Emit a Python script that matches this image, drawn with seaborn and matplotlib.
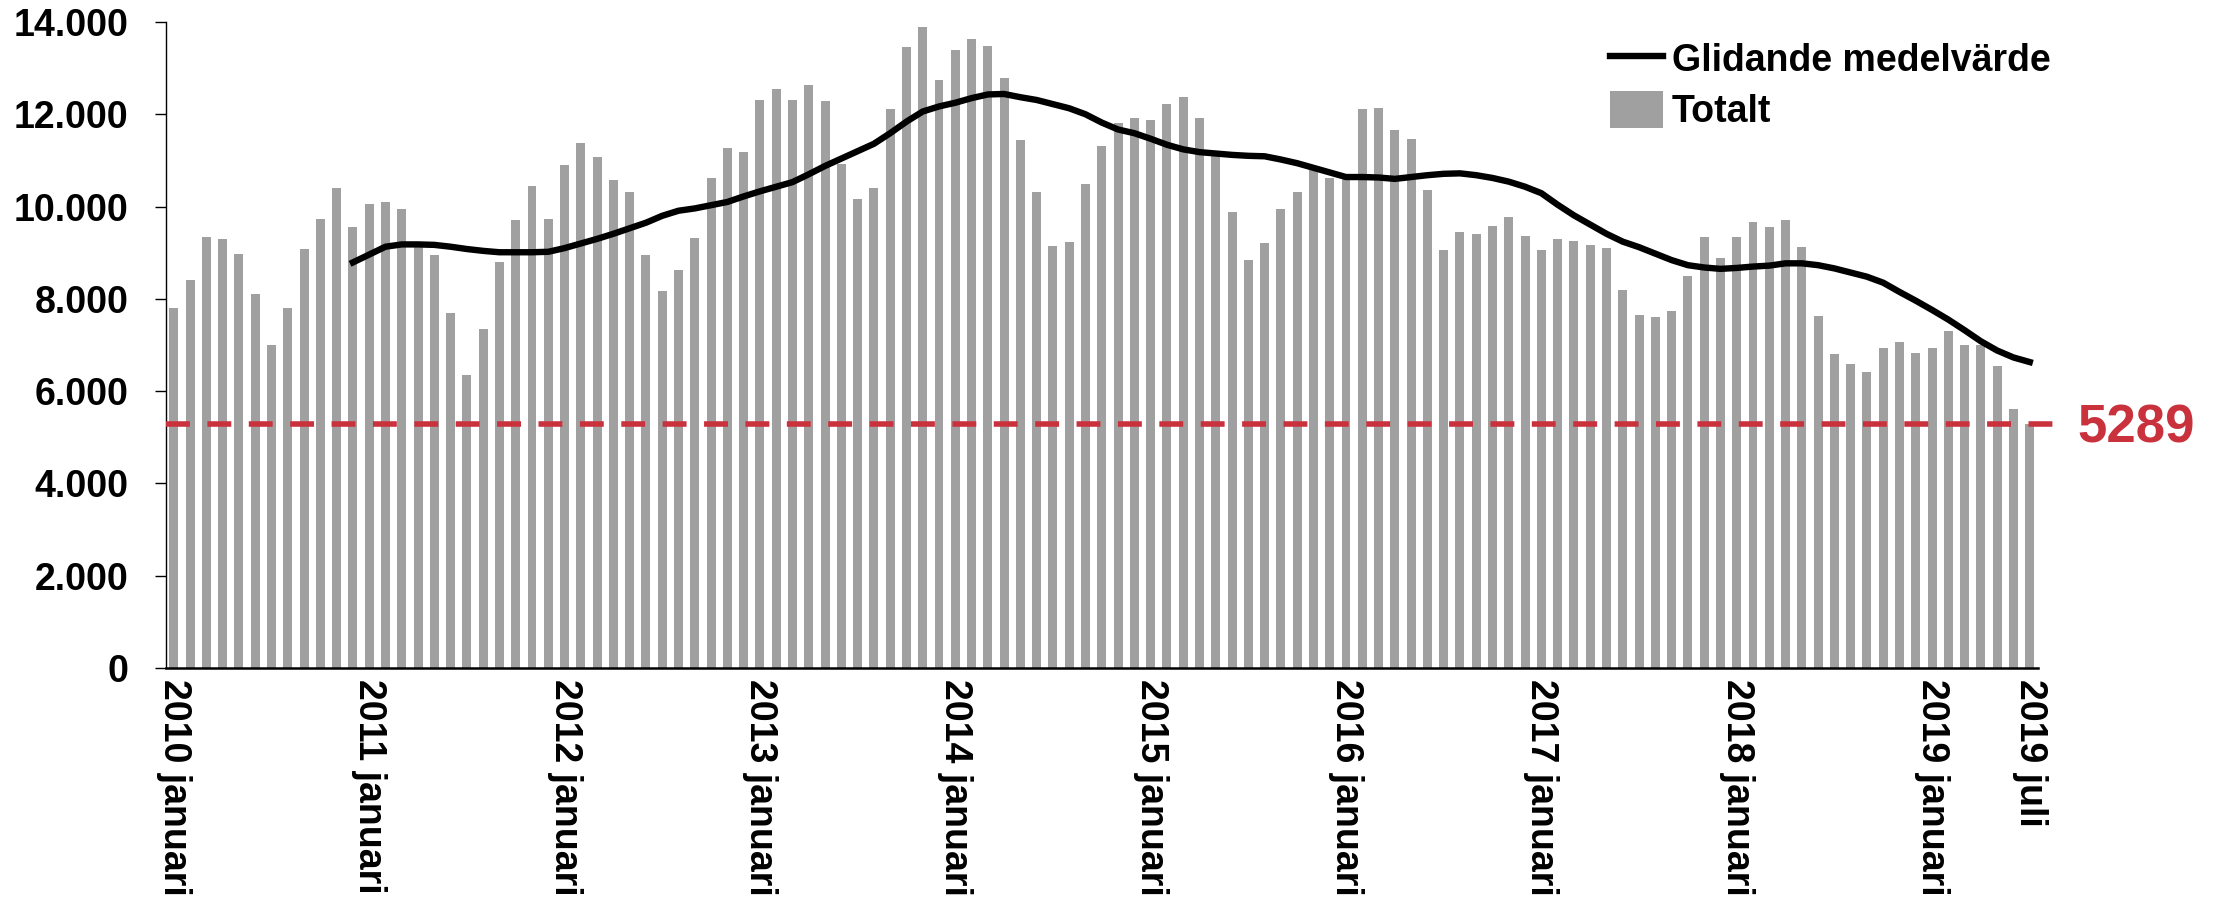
import numpy as np
import pandas as pd
import matplotlib
matplotlib.use("Agg")
import matplotlib.pyplot as plt
from matplotlib.lines import Line2D
from matplotlib.patches import Patch
from matplotlib.ticker import FuncFormatter
import seaborn as sns

# Monthly totals, 2010 januari .. 2019 juli
manader = ["januari", "februari", "mars", "april", "maj", "juni",
           "juli", "augusti", "september", "oktober", "november", "december"]
startar = 2010

totalt = [
    7800, 8400, 9350, 9300, 8980, 8100, 7000, 7800, 9080, 9730, 10400, 9550,        # 2010
    10060, 10090, 9950, 9150, 8940, 7690, 6350, 7340, 8790, 9700, 10450, 9730,      # 2011
    10900, 11380, 11080, 10580, 10310, 8940, 8180, 8620, 9310, 10610, 11270, 11180, # 2012
    12310, 12540, 12310, 12640, 12290, 10920, 10170, 10400, 12110, 13450, 13890, 12740,  # 2013
    13390, 13640, 13470, 12780, 11440, 10310, 9150, 9230, 10480, 11320, 11820, 11910,    # 2014
    11880, 12230, 12380, 11920, 11100, 9880, 8850, 9220, 9950, 10310, 10850, 10630,      # 2015
    10700, 12120, 12130, 11660, 11460, 10350, 9050, 9440, 9400, 9580, 9780, 9360,        # 2016
    9060, 9290, 9260, 9170, 9110, 8190, 7640, 7610, 7730, 8500, 9340, 8880,              # 2017
    9340, 9670, 9550, 9700, 9120, 7620, 6800, 6590, 6420, 6940, 7070, 6830,              # 2018
    6940, 7300, 7000, 7010, 6550, 5610, 5289,                                            # 2019
]

# 12-month moving average, first value at 2010 december
glidande = [
    8790,                                                                   # 2010 dec
    8960, 9130, 9180, 9180, 9170, 9130, 9080, 9040, 9010, 9010, 9010, 9020,  # 2011
    9100, 9200, 9300, 9410, 9530, 9650, 9800, 9910, 9960, 10030, 10100, 10220,  # 2012
    10330, 10430, 10530, 10700, 10880, 11040, 11200, 11360, 11590, 11840, 12060, 12170,  # 2013
    12250, 12350, 12430, 12440, 12370, 12310, 12220, 12130, 12000, 11820, 11670, 11590,  # 2014
    11470, 11340, 11240, 11180, 11150, 11120, 11100, 11090, 11020, 10940, 10840, 10740,  # 2015
    10640, 10640, 10630, 10600, 10640, 10680, 10710, 10720, 10680, 10620, 10540, 10430,  # 2016
    10290, 10040, 9810, 9610, 9410, 9240, 9120, 8980, 8840, 8730, 8680, 8650,           # 2017
    8670, 8700, 8720, 8770, 8770, 8730, 8660, 8570, 8480, 8350, 8150, 7960,             # 2018
    7760, 7550, 7320, 7080, 6880, 6730, 6630,                                           # 2019
]

ytick_varden = [0, 2000, 4000, 6000, 8000, 10000, 12000, 14000]

serie_linje = "Glidande medelvärde"
serie_stapel = "Totalt"

perioder = [f"{startar + i // 12} {manader[i % 12]}" for i in range(len(totalt))]
df = pd.DataFrame({"period": perioder, "totalt": totalt})
df["pos"] = np.arange(len(df))
df_mv = df.iloc[len(df) - len(glidande):].copy()
df_mv["glidande"] = glidande

senaste = totalt[-1]

# Styling
GRA = "#A0A0A0"
ROD = "#C9323D"
FS = 27

plt.rcParams["font.family"] = ["Liberation Sans", "DejaVu Sans"]
plt.rcParams["font.weight"] = "bold"
plt.rcParams["text.color"] = "black"

fig = plt.figure(figsize=(22.2, 8.98), dpi=100)
ax = fig.add_axes([0.07464, 0.25612, 0.84333, 0.71938])

sns.barplot(data=df, x="pos", y="totalt", native_scale=True, color=GRA,
            saturation=1, width=0.55, errorbar=None, linewidth=0,
            edgecolor="none", ax=ax)
sns.lineplot(data=df_mv, x="pos", y="glidande", color="black", linewidth=4.6,
             estimator=None, sort=False, ax=ax)

# Reference level at the latest month
ax.axhline(senaste, xmin=0, xmax=1.0145, color=ROD, linewidth=4,
           dashes=(4.3, 3.15), clip_on=False, zorder=3)
ax.annotate(f"{senaste}", xy=(116.94, senaste), xytext=(0, -13.6),
            textcoords="offset points", ha="left", va="baseline",
            color=ROD, fontsize=38, fontweight="bold", annotation_clip=False)

ax.set_xlim(-0.5, len(df) - 0.5)
ax.set_ylim(ytick_varden[0], ytick_varden[-1])
ax.set_yticks(ytick_varden)
ax.yaxis.set_major_formatter(FuncFormatter(lambda v, _: f"{int(v):,}".replace(",", ".")))

visa = (df["period"].str.endswith("januari")) | (df["pos"] == df["pos"].iloc[-1])
ax.set_xticks(df.loc[visa, "pos"], labels=df.loc[visa, "period"],
              rotation=-90, ha="center", va="top")

ax.tick_params(axis="y", length=7.7, width=1.0, pad=19, labelsize=FS, colors="black")
ax.tick_params(axis="x", length=0, pad=8, labelsize=FS, colors="black")
for lbl in ax.get_xticklabels() + ax.get_yticklabels():
    lbl.set_fontweight("bold")

ax.set_xlabel("")
ax.set_ylabel("")
sns.despine(ax=ax)
ax.spines["left"].set_linewidth(1.0)
ax.spines["bottom"].set_linewidth(1.8)
ax.spines["left"].set_color("black")
ax.spines["bottom"].set_color("black")
ax.set_facecolor("white")

handles = [Line2D([], [], color="black", linewidth=4.6),
           Patch(facecolor=GRA, edgecolor="none")]
ax.legend(handles, [serie_linje, serie_stapel], loc="upper left",
          bbox_to_anchor=(1610 / 2220, 1 - 40 / 898),
          bbox_transform=fig.transFigure, frameon=False, borderpad=0,
          borderaxespad=0, handlelength=1.4, handleheight=1.15,
          handletextpad=0.25, labelspacing=0.3,
          prop={"size": FS, "weight": "bold"})

fig.savefig("out.png", dpi=100, facecolor="white")
